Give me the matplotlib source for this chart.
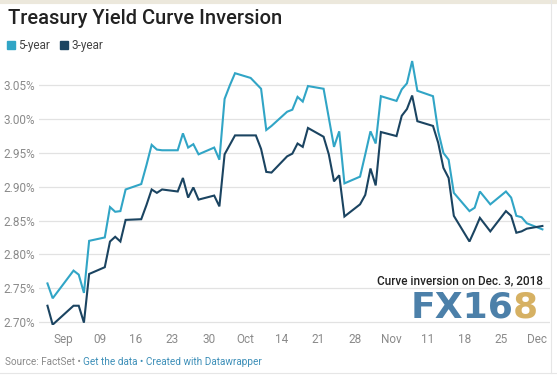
import numpy as np
import pandas as pd
import matplotlib
matplotlib.use("Agg")
import matplotlib.pyplot as plt
import matplotlib.dates as mdates
from matplotlib.patches import Rectangle

plt.rcParams['font.family'] = ['Roboto', 'DejaVu Sans']

# Data
dates = [
    "2018-08-30", "2018-08-31", "2018-09-04", "2018-09-05", "2018-09-06", "2018-09-07",
    "2018-09-10", "2018-09-11", "2018-09-12", "2018-09-13", "2018-09-14",
    "2018-09-17", "2018-09-18", "2018-09-19", "2018-09-20", "2018-09-21",
    "2018-09-24", "2018-09-25", "2018-09-26", "2018-09-27", "2018-09-28",
    "2018-10-01", "2018-10-02", "2018-10-03", "2018-10-04", "2018-10-05",
    "2018-10-08", "2018-10-09", "2018-10-10", "2018-10-11", "2018-10-12",
    "2018-10-15", "2018-10-16", "2018-10-17", "2018-10-18", "2018-10-19",
    "2018-10-22", "2018-10-23", "2018-10-24", "2018-10-25", "2018-10-26",
    "2018-10-29", "2018-10-30", "2018-10-31", "2018-11-01", "2018-11-02",
    "2018-11-05", "2018-11-06", "2018-11-07", "2018-11-08", "2018-11-09",
    "2018-11-12", "2018-11-13", "2018-11-14", "2018-11-15", "2018-11-16",
    "2018-11-19", "2018-11-20", "2018-11-21", "2018-11-23",
    "2018-11-26", "2018-11-27", "2018-11-28", "2018-11-29", "2018-11-30",
    "2018-12-03",
]
yield_5y = [
    2.757, 2.735, 2.776, 2.770, 2.743, 2.820,
    2.825, 2.870, 2.863, 2.864, 2.896,
    2.904, 2.932, 2.962, 2.955, 2.954,
    2.954, 2.979, 2.958, 2.963, 2.948,
    2.958, 2.940, 3.030, 3.050, 3.068,
    3.061, 3.053, 3.045, 2.984, 2.990,
    3.011, 3.014, 3.033, 3.026, 3.049,
    3.045, 3.002, 2.959, 2.982, 2.905,
    2.915, 2.948, 2.982, 2.964, 3.034,
    3.027, 3.044, 3.053, 3.086, 3.042,
    3.034, 2.982, 2.950, 2.940, 2.891,
    2.864, 2.869, 2.893, 2.874,
    2.893, 2.884, 2.857, 2.855, 2.846,
    2.837,
]
yield_3y = [
    2.724, 2.696, 2.724, 2.724, 2.699, 2.771,
    2.781, 2.819, 2.826, 2.819, 2.851,
    2.852, 2.873, 2.896, 2.891, 2.896,
    2.893, 2.913, 2.884, 2.899, 2.881,
    2.887, 2.871, 2.948, 2.962, 2.976,
    2.976, 2.976, 2.956, 2.922, 2.921,
    2.945, 2.949, 2.964, 2.959, 2.987,
    2.974, 2.948, 2.908, 2.917, 2.856,
    2.874, 2.888, 2.927, 2.902, 2.981,
    2.975, 3.005, 3.015, 3.035, 2.997,
    2.990, 2.965, 2.928, 2.913, 2.857,
    2.819, 2.836, 2.854, 2.834,
    2.864, 2.857, 2.832, 2.834, 2.838,
    2.842,
]
y_ticks = [2.70, 2.75, 2.80, 2.85, 2.90, 2.95, 3.00, 3.05]
x_tick_dates = ["2018-09-02", "2018-09-09", "2018-09-16", "2018-09-23", "2018-09-30",
                "2018-10-07", "2018-10-14", "2018-10-21", "2018-10-28",
                "2018-11-04", "2018-11-11", "2018-11-18", "2018-11-25", "2018-12-02"]
x_tick_labels = ["Sep", "09", "16", "23", "30", "Oct", "14", "21", "28",
                 "Nov", "11", "18", "25", "Dec"]

c5 = "#31a5c6"
c3 = "#1b4461"
grey = "#8a8a8a"

W, H = 557, 377
fig = plt.figure(figsize=(W / 100, H / 100), dpi=100)
fig.patch.set_facecolor("white")

# axes placed in pixel terms
ax_left, ax_right, ax_top, ax_bottom = 39, 550, 58, 325
ax = fig.add_axes([ax_left / W, 1 - ax_bottom / H, (ax_right - ax_left) / W, (ax_bottom - ax_top) / H])

x = pd.to_datetime(dates)
ax.plot(x, yield_5y, color=c5, lw=1.5, solid_joinstyle="miter", zorder=3)
ax.plot(x, yield_3y, color=c3, lw=1.5, solid_joinstyle="miter", zorder=4)

ax.set_ylim(2.6955, 3.0905)
ax.set_xlim(pd.Timestamp("2018-08-28 09:00"), pd.Timestamp("2018-12-04 11:00"))

ax.set_yticks(y_ticks)
ax.set_yticklabels([f"{v:.2f}%" for v in y_ticks])
ax.set_xticks(pd.to_datetime(x_tick_dates))
ax.set_xticklabels(x_tick_labels)
ax.tick_params(axis="both", length=0, labelsize=8.5, labelcolor=grey)
ax.tick_params(axis="y", pad=3)
ax.tick_params(axis="x", pad=6)
ax.grid(axis="y", color="#e2e2e2", lw=0.9)
ax.grid(axis="x", visible=False)
for s in ax.spines.values():
    s.set_visible(False)
ax.set_facecolor("none")

# title and legend
fig.text(8 / W, 1 - 18 / H, "Treasury Yield Curve Inversion", fontsize=14.5,
         fontweight="medium", color="#222222", va="center", ha="left")
fig.patches.append(Rectangle((7 / W, 1 - 49 / H), 8 / W, 8 / H, transform=fig.transFigure,
                             color=c5, figure=fig))
fig.text(18 / W, 1 - 45 / H, "5-year", fontsize=8.5, color="#444444", va="center")
fig.patches.append(Rectangle((60 / W, 1 - 49 / H), 8 / W, 8 / H, transform=fig.transFigure,
                             color=c3, figure=fig))
fig.text(71 / W, 1 - 45 / H, "3-year", fontsize=8.5, color="#444444", va="center")

# annotation
fig.text(543 / W, 1 - 281 / H, "Curve inversion on Dec. 3, 2018", fontsize=8.5,
         fontweight="medium", color="#222222", ha="right", va="center")

# watermark
fig.text(513 / W, 1 - 308 / H, "FX16", fontsize=26, fontweight="bold",
         family="DejaVu Sans", color="#4c80a9", ha="right", va="center")
fig.text(513 / W, 1 - 308 / H, "8", fontsize=26, fontweight="bold",
         family="DejaVu Sans", color="#d6b163", ha="left", va="center")

# source line
t = fig.text(5 / W, 1 - 362 / H, "Source: FactSet \u2022 ", fontsize=7.2, color=grey, va="center")
fig.canvas.draw()
bb = t.get_window_extent()
fig.text(bb.x1 / W, 1 - 362 / H, "Get the data \u2022 Created with Datawrapper", fontsize=7.2,
         color="#3d8fb8", va="center")

# frame lines
fig.add_artist(plt.Line2D([0, 1], [1 - 1.5 / H, 1 - 1.5 / H], transform=fig.transFigure,
                          color="#ece8dc", lw=3))
fig.add_artist(plt.Line2D([0, 1], [1 - 373 / H, 1 - 373 / H], transform=fig.transFigure,
                          color="#e6e6e6", lw=0.8))
fig.add_artist(plt.Line2D([551 / W, 551 / W], [1 - 373 / H, 1], transform=fig.transFigure,
                          color="#e6e6e6", lw=0.8))

fig.savefig("out.png", dpi=100)
